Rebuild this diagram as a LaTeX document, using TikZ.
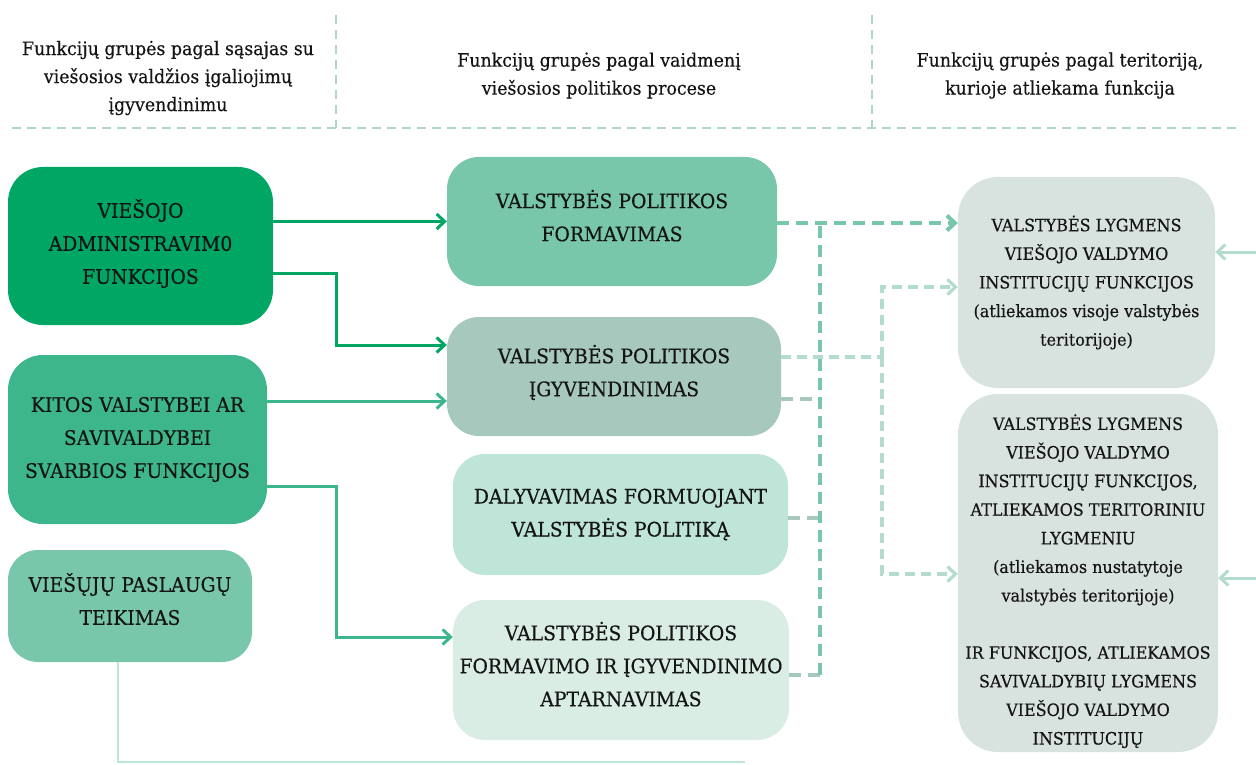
\documentclass[tikz,border=0pt]{standalone}
\usepackage{fontspec}
\setmainfont{DejaVu Serif}[FakeStretch=0.94,FakeBold=0.4]
\usetikzlibrary{arrows.meta}
\definecolor{cBa}{HTML}{00A664}
\definecolor{cBb}{HTML}{3CB68A}
\definecolor{cBc}{HTML}{78C7AA}
\definecolor{cMb}{HTML}{A7C8BC}
\definecolor{cMc}{HTML}{BEE5D7}
\definecolor{cMd}{HTML}{DAEDE5}
\definecolor{cR}{HTML}{D8E2DE}
\definecolor{cHdr}{HTML}{AFD6C8}
\definecolor{cLight}{HTML}{B3DCCD}
\definecolor{txt}{HTML}{151515}
\newcommand{\mydepth}[1]{\rule[-#1]{0pt}{#1}}
\newcommand{\myheight}[1]{\rule{0pt}{#1}}
\begin{document}
\begin{tikzpicture}[x=1pt,y=-1pt,
  box/.style={rectangle, rounded corners=32pt, inner sep=0pt, align=center, text=txt},
  bigtxt/.style={font=\fontsize{20}{33}\selectfont},
  smalltxt/.style={font=\fontsize{17}{28.6}\selectfont},
  hdr/.style={font=\fontsize{18.5}{28}\selectfont, align=center, text=txt},
  arr/.style={-{Straight Barb[length=8pt,width=15pt]}},
  hline/.style={draw=cHdr, line width=2.6pt, dash pattern=on 9pt off 6pt},
  solidA/.style={draw=cBa, line width=3pt, arr},
  solidB/.style={draw=cBb, line width=3pt, arr},
  dashG/.style={draw=cBc, line width=4pt, dash pattern=on 12pt off 7pt},
  dashS/.style={draw=cMb, line width=4pt, dash pattern=on 12pt off 7pt},
  dashL/.style={draw=cLight, line width=3.2pt, dash pattern=on 10pt off 6pt},
  lightsolid/.style={draw=cLight, line width=3pt, arr}
]
\useasboundingbox (0,0) rectangle (1256,765);

% header
\coordinate (hl) at (12,128);
\coordinate (hr) at (1240,128);
\coordinate (va) at (336,15);
\coordinate (vb) at (872,15);
\draw[hline] (hl) -- (hr);
\draw[hline] (va) -- (va |- hl);
\draw[hline] (vb) -- (vb |- hl);
\node[hdr] (h1) at (168,78) {Funkcijų grupės pagal sąsajas su\\viešosios valdžios įgaliojimų\\įgyvendinimu};
\node[hdr] (h2) at (599,75.5) {Funkcijų grupės pagal vaidmenį\\viešosios politikos procese};
\node[hdr] (h3) at (1060,75.5) {Funkcijų grupės pagal teritoriją,\\kurioje atliekama funkcija};

% left column
\node[box, bigtxt, fill=cBa, minimum width=265pt, minimum height=158pt, rounded corners=35pt] (B1) at (140.5,246) {VIEŠOJO\\ADMINISTRAVIM0\\FUNKCIJOS\mydepth{9pt}};
\node[box, bigtxt, fill=cBb, minimum width=259pt, minimum height=169pt, rounded corners=35pt] (B2) at (137.5,439.5) {KITOS VALSTYBEI AR\\SAVIVALDYBEI\\SVARBIOS FUNKCIJOS};
\node[box, bigtxt, fill=cBc, minimum width=244pt, minimum height=112pt, rounded corners=30pt] (B3) at (130,606) {VIEŠŲJŲ PASLAUGŲ\\TEIKIMAS\mydepth{14pt}};

% middle column
\node[box, bigtxt, fill=cBc, minimum width=330pt, minimum height=129pt] (M1) at (612,221.5) {VALSTYBĖS POLITIKOS\\FORMAVIMAS\mydepth{12pt}};
\node[box, bigtxt, fill=cMb, minimum width=334pt, minimum height=119pt] (M2) at (614,376.5) {VALSTYBĖS POLITIKOS\\ĮGYVENDINIMAS\mydepth{12pt}};
\node[box, bigtxt, fill=cMc, minimum width=335pt, minimum height=121pt] (M3) at (620.5,514.5) {DALYVAVIMAS FORMUOJANT\\VALSTYBĖS POLITIKĄ};
\node[box, bigtxt, fill=cMd, minimum width=336pt, minimum height=140pt] (M4) at (621,670) {VALSTYBĖS POLITIKOS\\FORMAVIMO IR ĮGYVENDINIMO\\APTARNAVIMAS\mydepth{12pt}};

% right column
\node[box, smalltxt, fill=cR, minimum width=257pt, minimum height=211pt, rounded corners=40pt] (R1) at (1086.5,282.5) {VALSTYBĖS LYGMENS\\VIEŠOJO VALDYMO\\INSTITUCIJŲ FUNKCIJOS\\(atliekamos visoje valstybės\\teritorijoje)};
\node[box, smalltxt, fill=cR, minimum width=260pt, minimum height=358pt, rounded corners=40pt] (R2) at (1088,573) {\myheight{32pt}VALSTYBĖS LYGMENS\\VIEŠOJO VALDYMO\\INSTITUCIJŲ FUNKCIJOS,\\ATLIEKAMOS TERITORINIU\\LYGMENIU\\(atliekamos nustatytoje\\valstybės teritorijoje)\\[28.6pt]IR FUNKCIJOS, ATLIEKAMOS\\SAVIVALDYBIŲ LYGMENS\\VIEŠOJO VALDYMO\\INSTITUCIJŲ};

% helper coordinates
\coordinate (colx) at (336,0);
\coordinate (trunk) at (820,0);
\coordinate (ltrunk) at (882,0);
\coordinate (m2a) at ([yshift=31.5pt]M2.west);
\coordinate (m2b) at ([yshift=-24.5pt]M2.west);
\coordinate (m4a) at ([yshift=33pt]M4.west);
\coordinate (r1a) at ([yshift=59.5pt]R1.west);
\coordinate (r1b) at ([yshift=-4.5pt]R1.west);
\coordinate (r2a) at ([yshift=-1pt]R2.west);
\coordinate (m2up) at ([yshift=19.5pt]M2.east);
\coordinate (m2lo) at ([yshift=-22.5pt]M2.east);
\coordinate (m3o) at ([yshift=-3.5pt]M3.east);
\coordinate (m4o) at ([yshift=-5pt]M4.east);
\coordinate (e1) at (1262,252);
\coordinate (e2) at (1262,578);
\coordinate (b3end) at (745,762);

% solid connectors from the left column
\draw[solidA] (B1.east |- M1.west) -- (M1.west);
\draw[solidA] ([yshift=-27pt]B1.east) -| (colx |- m2a) -- (m2a);
\draw[solidB] (B2.east |- m2b) -- (m2b);
\draw[solidB] ([yshift=-47pt]B2.east) -| (colx |- m4a) -- (m4a);
\draw[draw=cMc, line width=2.5pt] ([xshift=-12pt]B3.south) |- (b3end);

% light dashed connectors
\draw[dashL] (m2up) -- (ltrunk |- m2up);
\draw[dashL, arr] (ltrunk |- m2up) |- (r1b);
\draw[dashL, arr] (ltrunk |- m2up) |- (r2a);

% green dashed connectors
\draw[dashS] (m2lo) -- (trunk |- m2lo);
\draw[dashS] (m3o) -- (trunk |- m3o);
\draw[dashS] (m4o) -- (trunk |- m4o);
\draw[dashG] (trunk |- m4o) -- (trunk |- r1a);
\draw[dashG, arr] (M1.east |- r1a) -- (r1a);

% arrows entering from the right edge
\draw[lightsolid] (e1) -- (R1.east |- e1);
\draw[lightsolid] (e2) -- (R2.east |- e2);
\end{tikzpicture}
\end{document}
